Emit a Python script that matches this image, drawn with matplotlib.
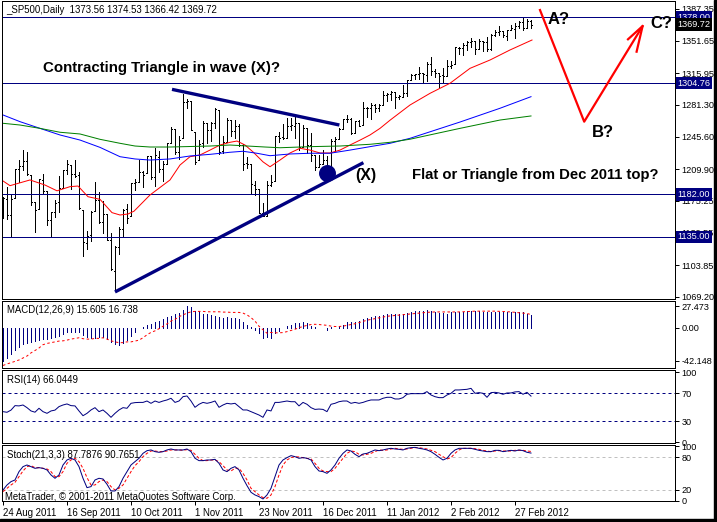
import matplotlib
matplotlib.use("Agg")
import matplotlib.pyplot as plt
from matplotlib.collections import LineCollection
from matplotlib.patches import Rectangle
import matplotlib.transforms as mtransforms

plt.rcParams['font.family'] = ['Liberation Sans', 'DejaVu Sans']

# ---------------- data ----------------
opens = [1162.2, 1176.7, 1158.9, 1177.9, 1209.8, 1213.0, 1219.1, 1203.9, 1174.0, 1165.9,
         1198.0, 1185.4, 1153.5, 1162.6, 1173.3, 1189.4, 1209.2, 1215.0, 1204.5, 1203.6,
         1164.6, 1128.8, 1136.9, 1163.3, 1175.4, 1151.7, 1159.9, 1131.2, 1097.4, 1124.0,
         1144.1, 1166.0, 1158.2, 1194.6, 1196.2, 1207.0, 1205.7, 1224.5, 1200.8, 1223.5,
         1209.9, 1215.4, 1238.7, 1254.2, 1229.2, 1244.0, 1284.4, 1285.0, 1251.0, 1219.6,
         1238.3, 1260.8, 1253.2, 1261.1, 1275.2, 1229.6, 1240.1, 1263.9, 1251.7, 1257.8,
         1236.6, 1216.2, 1215.6, 1192.6, 1187.5, 1161.4, 1158.7, 1192.6, 1196.7, 1246.9,
         1246.0, 1244.3, 1257.2, 1258.1, 1260.9, 1234.5, 1255.1, 1236.8, 1225.7, 1212.1,
         1216.1, 1219.7, 1205.7, 1241.3, 1243.7, 1254.0, 1265.0, 1265.4, 1249.8, 1262.8,
         1258.9, 1277.0, 1277.3, 1280.9, 1277.8, 1280.8, 1292.0, 1292.5, 1294.8, 1289.1,
         1290.2, 1293.7, 1308.1, 1314.5, 1315.3, 1316.0, 1314.4, 1326.3, 1318.3, 1316.2,
         1313.5, 1312.5, 1324.2, 1326.2, 1344.3, 1344.3, 1347.1, 1350.0, 1351.2, 1343.1,
         1351.3, 1350.5, 1342.6, 1358.1, 1361.2, 1362.1, 1357.5, 1363.5, 1365.2, 1367.6,
         1372.2, 1365.9, 1373.56]
highs = [1178.7, 1190.7, 1181.2, 1210.3, 1220.1, 1230.7, 1229.3, 1203.9, 1174.0, 1198.6,
         1204.4, 1185.4, 1162.5, 1176.4, 1202.4, 1209.1, 1220.1, 1215.0, 1220.4, 1206.3,
         1164.6, 1141.7, 1164.2, 1195.9, 1184.7, 1175.1, 1159.9, 1139.0, 1125.1, 1146.1,
         1165.6, 1171.4, 1194.9, 1199.2, 1220.3, 1207.5, 1224.6, 1224.5, 1233.1, 1229.6,
         1219.5, 1239.0, 1256.6, 1254.2, 1246.3, 1292.7, 1287.1, 1285.0, 1251.0, 1242.5,
         1263.2, 1260.8, 1261.7, 1277.6, 1275.2, 1246.2, 1267.0, 1263.9, 1264.3, 1259.6,
         1237.7, 1223.5, 1215.6, 1196.8, 1187.5, 1172.7, 1197.4, 1203.7, 1247.1, 1251.1,
         1260.1, 1266.7, 1266.0, 1267.1, 1260.9, 1258.3, 1255.1, 1249.9, 1225.7, 1225.6,
         1231.0, 1224.6, 1242.8, 1245.1, 1255.2, 1265.4, 1269.4, 1265.9, 1263.5, 1264.1,
         1284.6, 1278.7, 1283.1, 1281.8, 1282.0, 1296.5, 1293.8, 1296.8, 1294.8, 1292.0,
         1303.0, 1308.1, 1315.5, 1315.4, 1322.3, 1316.0, 1328.3, 1333.5, 1320.1, 1316.2,
         1321.4, 1330.5, 1329.2, 1345.3, 1344.4, 1349.2, 1351.0, 1354.3, 1351.2, 1353.4,
         1351.3, 1355.9, 1359.0, 1363.4, 1367.8, 1362.7, 1364.2, 1368.9, 1371.9, 1373.1,
         1378.0, 1376.2, 1374.53]
lows = [1156.3, 1155.0, 1135.9, 1177.9, 1195.8, 1209.4, 1203.9, 1170.6, 1140.1, 1165.9,
        1183.3, 1148.4, 1136.1, 1157.4, 1162.7, 1189.4, 1204.5, 1188.4, 1201.3, 1166.2,
        1114.2, 1121.4, 1131.1, 1163.3, 1150.4, 1139.9, 1131.3, 1098.9, 1074.8, 1115.7,
        1135.0, 1150.3, 1158.2, 1187.3, 1196.2, 1190.6, 1205.7, 1198.6, 1191.5, 1206.3,
        1197.3, 1215.4, 1238.7, 1226.8, 1221.1, 1244.0, 1277.0, 1253.2, 1215.4, 1219.6,
        1234.8, 1238.9, 1240.8, 1255.0, 1226.6, 1227.7, 1240.1, 1246.7, 1244.3, 1235.7,
        1209.4, 1211.4, 1183.2, 1181.7, 1161.8, 1158.7, 1158.7, 1191.8, 1196.7, 1239.7,
        1243.4, 1244.3, 1253.0, 1244.8, 1231.0, 1234.5, 1227.3, 1219.4, 1209.5, 1212.1,
        1215.2, 1202.4, 1205.7, 1229.5, 1243.1, 1254.0, 1262.3, 1248.6, 1249.8, 1257.5,
        1258.9, 1268.1, 1265.3, 1273.3, 1274.6, 1280.8, 1285.4, 1285.8, 1277.6, 1287.0,
        1290.2, 1291.0, 1308.1, 1309.2, 1309.9, 1306.1, 1307.7, 1313.6, 1311.7, 1300.5,
        1306.7, 1312.5, 1321.6, 1326.2, 1337.5, 1335.9, 1342.0, 1344.6, 1337.4, 1343.1,
        1340.8, 1340.8, 1341.2, 1357.2, 1358.1, 1355.5, 1352.3, 1363.5, 1354.9, 1366.0,
        1363.8, 1365.9, 1366.42]
closes = [1177.6, 1159.3, 1176.8, 1210.1, 1212.9, 1218.9, 1204.4, 1174.0, 1165.2, 1198.6,
          1185.9, 1154.2, 1162.3, 1172.9, 1188.7, 1209.1, 1216.0, 1204.1, 1202.1, 1166.8,
          1129.6, 1136.4, 1163.0, 1175.4, 1151.1, 1160.4, 1131.4, 1099.2, 1124.0, 1144.0,
          1165.0, 1155.5, 1194.9, 1195.5, 1207.3, 1203.7, 1224.6, 1200.9, 1225.4, 1209.9,
          1215.4, 1238.3, 1254.2, 1229.1, 1242.0, 1284.6, 1285.1, 1253.3, 1218.3, 1237.9,
          1261.2, 1253.2, 1261.1, 1275.9, 1229.1, 1239.7, 1263.9, 1251.8, 1257.8, 1236.9,
          1216.1, 1215.7, 1193.0, 1188.0, 1161.8, 1158.7, 1192.6, 1195.2, 1247.0, 1244.6,
          1244.3, 1257.1, 1258.5, 1261.0, 1234.4, 1255.2, 1236.5, 1225.7, 1211.8, 1215.8,
          1219.7, 1205.4, 1241.3, 1243.7, 1254.0, 1265.3, 1265.4, 1249.6, 1263.0, 1257.6,
          1277.1, 1277.3, 1281.1, 1277.8, 1280.7, 1292.1, 1292.5, 1295.5, 1289.1, 1290.5,
          1293.7, 1308.0, 1314.5, 1315.4, 1316.0, 1314.7, 1326.1, 1318.4, 1316.3, 1313.0,
          1312.4, 1324.1, 1325.5, 1344.9, 1344.3, 1347.1, 1350.0, 1352.0, 1342.6, 1351.8,
          1350.5, 1343.2, 1358.0, 1361.2, 1362.2, 1357.7, 1363.5, 1365.7, 1367.6, 1372.2,
          1366.0, 1374.1, 1369.72]

red_idx = [0, 1.75, 6.75, 10.5, 13.5, 16.75, 18.75, 21.25, 24.25, 27.25, 29.25, 31.25, 32.75,
           36.75, 41.75, 44.25, 46.75, 49.25, 51.75, 54.25, 56.75, 58.5, 60.5, 62.5, 65, 66.75,
           69.25, 71.75, 74.25, 76.75, 79.25, 81.75, 84.25, 86.75, 89.25, 91.75, 94.25, 96.75,
           101.75, 106.75, 111.75, 116.75, 121.75, 126.75, 132.25]
red_val = [1196.9, 1191.7, 1198, 1192.4, 1186, 1190.6, 1191.3, 1179.5, 1176.6, 1161.9, 1159.3,
           1160.4, 1163.5, 1181.4, 1198, 1214.5, 1223.7, 1225.6, 1231, 1236.6, 1239.6, 1241,
           1236.6, 1229, 1218, 1212.6, 1220, 1227.8, 1233, 1231, 1227.8, 1227.8, 1231, 1236.6,
           1242, 1247.7, 1255, 1264, 1280.8, 1293.7, 1304.8, 1321.3, 1330.5, 1341.6, 1352.6]
blue_idx = [0, 4.25, 9.25, 14.25, 19.25, 24.25, 29.25, 33, 36.75, 41.75, 46.75, 51.75, 56.75,
            60, 63.5, 66.75, 71.75, 76.75, 81.75, 86.75, 91.75, 96.75, 101.75, 114.25, 124.25, 132]
blue_val = [1269.8, 1262.4, 1255, 1247.7, 1242.1, 1234, 1223.7, 1221.2, 1220, 1221.2, 1224.5,
            1226.3, 1228.6, 1229.7, 1227.5, 1224.8, 1226.7, 1227.5, 1227.5, 1231, 1234.8, 1238.5,
            1244, 1262, 1277.2, 1290]
green_idx = [0, 4.25, 9.25, 14.25, 19.25, 24.25, 29.25, 33, 36.75, 41.75, 51.75, 56.75, 65.5,
             69.25, 76.75, 84.25, 91.75, 96.75, 101.75, 114.25, 124.25, 132]
green_val = [1260.6, 1258.7, 1255, 1250.7, 1248.8, 1242.9, 1238.5, 1235.5, 1234.4, 1234.4, 1235.5,
             1236.6, 1234.4, 1233.6, 1234.8, 1235.5, 1237.4, 1239.6, 1243, 1255, 1264.2, 1268.7]

levels = [1378.00, 1304.76, 1182.00, 1135.00]
price_ticks = [1387.35, 1351.65, 1315.95, 1281.30, 1245.60, 1209.90, 1175.25, 1139.55, 1103.85, 1069.20]

# hand-drawn analysis objects (bar index, price)
upper_tl = ([42.25, 84.1], [1298.1, 1258.7])
lower_tl = ([28, 90.1], [1074.3, 1217.1])
dot_x, dot_y = 80.9, 1206.0
abc_x = [134.25, 145.3, 159.9]
abc_y = [1385.7, 1262.4, 1368.0]
head_x = [156.25, 159.9, 158.4]
head_y = [1353.4, 1368.0, 1339.7]

macd = [-42.1, -38, -33, -28, -24, -21, -19, -18, -17, -16,
        -15, -14, -13, -12, -10, -8, -6, -5, -5, -6,
        -9, -12, -13, -13, -12, -12, -14, -18, -21, -22,
        -19, -16, -11, -5, -1, 0.5, 3, 5, 7, 9,
        11, 13, 15, 17, 19, 22, 27.5, 26, 21.5, 20.7,
        18, 17, 16, 15, 13, 12, 13, 12, 12, 10.5,
        7.5, 4, 0.5, -2.6, -7, -13.6, -11.5, -12.8, -7, -4,
        0, 2, 3, 6, 6, 7.5, 6, 2, 0.5, -1,
        0, -3, 0.5, -1, 2, 4, 7.5, 7.5, 7.5, 9,
        10.5, 12, 13.6, 14.5, 15, 16, 17, 18, 17, 17,
        17, 19, 19.4, 20.7, 20.7, 20.7, 22, 20.7, 19.4, 19,
        18.5, 18, 19.4, 19.4, 19.8, 19.8, 21.6, 21.6, 21.6, 21.6,
        19.4, 19.4, 19.4, 19.4, 19.4, 19.4, 19.4, 19.4, 19.4, 19.4,
        19.4, 18, 15.6]
signal = [-48, -46, -44.5, -42.7, -41, -38.5, -36, -32, -29, -25.8,
          -21.6, -20, -19, -18, -17, -16.7, -15.8, -14.5, -13.6, -12.8,
          -14, -14.5, -14.5, -13.6, -13.6, -12.8, -14.5, -16.7, -18, -19,
          -19, -18, -18, -17, -15.8, -12.8, -9, -6, -4, -1.3,
          1.8, 4.8, 8.4, 10.6, 14, 16.3, 18.5, 20.2, 20.7, 20.7,
          20.7, 20.2, 20.2, 20.2, 20.2, 19.8, 19.8, 19.4, 19.4, 19.4,
          18.5, 16.3, 12.8, 8.4, 1.8, -2.6, -7, -6, -6.5, -6.5,
          -6.2, -5, -3.5, -2, 0, 1.5, 3, 4, 4.3, 4,
          3.5, 3, 2, 1.5, 1.5, 2, 3, 4, 5, 6.5,
          8, 9.5, 10.5, 11.5, 12.5, 13.5, 14.5, 15, 15.5, 16,
          16.5, 17, 17.5, 18, 18.5, 19, 19.5, 19.8, 20, 20,
          20, 20, 20, 20, 20, 20.2, 20.5, 20.7, 21, 21,
          21, 21, 21, 21, 20.8, 20.5, 20.3, 20, 19.5, 19,
          18.5, 18, 16.7]
rsi = [43.8, 42.9, 46, 52.4, 52, 53.3, 49.5, 44.8, 43, 48.6,
       43.8, 41.4, 44.8, 46, 51, 53.3, 54.8, 52.4, 52, 44.8,
       38, 41.4, 46.2, 49.5, 43.8, 46.2, 41.4, 35.7, 41.4, 46.2,
       49.5, 48.6, 55.7, 56.7, 57, 57, 59, 55.7, 59, 57,
       59, 60.5, 62.9, 57, 59, 65.2, 66.2, 59, 50, 54.3,
       57, 55.7, 57, 59, 50, 53.3, 55.7, 54.8, 55.7, 51,
       46.2, 46.2, 43.8, 41.4, 39, 35.7, 46.2, 44.8, 57, 57,
       58, 59, 58, 58, 52, 57, 54.3, 49.5, 47, 47.5,
       47, 43.8, 54.3, 55.7, 58, 59, 59, 55.7, 57, 55.7,
       57, 59, 60.5, 60.5, 60.5, 62.9, 64.3, 64.3, 61.9, 61.9,
       63.8, 68.6, 69.5, 69.5, 69.5, 69.5, 72.4, 67.6, 65.2, 63.8,
       63.8, 67.6, 70, 74.8, 74.8, 75.2, 75.7, 77.1, 70, 71,
       70, 64.3, 71, 71.4, 70.5, 68.6, 70.5, 70.5, 72, 72.4,
       68.6, 71.4, 66.0]
stoch_k = [20, 29.2, 35.4, 38.4, 53.7, 62.9, 65.9, 62.9, 59.8, 61,
           59.8, 56.8, 47.6, 41.5, 47.6, 65.9, 75.1, 78.2, 75.1, 62.9,
           41.5, 24.3, 26.2, 38.4, 41.5, 40.2, 30.5, 18.2, 18.2, 26.2,
           41.5, 53.7, 65.9, 72, 78.2, 87.3, 92.2, 93.5, 90.4, 89.2,
           90.4, 93.5, 95.3, 93.5, 93.5, 93.5, 95.3, 90.4, 78.2, 73.9,
           73.9, 75.1, 75.1, 76.3, 69, 56.8, 53.7, 59.8, 62.9, 56.8,
           41.5, 28, 15.8, 10.9, 7.8, 3.5, 10.9, 23.1, 44.5, 65.9,
           75.1, 79.4, 83.1, 81.2, 78.2, 79.4, 78.2, 75.1, 62.9, 54.9,
           53.7, 50.6, 56.8, 65.9, 78.2, 87.3, 93.5, 91.6, 85.5, 81.2,
           86.1, 87.3, 90.4, 93.5, 92.2, 93.5, 95.3, 96.5, 95.3, 94.7,
           93.5, 96.5, 97.7, 98.3, 96.5, 95.3, 93.5, 90.4, 85.5, 80,
           75.1, 78.2, 87.3, 93.5, 96.5, 96.5, 96.5, 96.5, 94.7, 92.8,
           91.6, 90.4, 90.4, 92.8, 92.8, 90.4, 91.6, 92.8, 91.6, 93.5,
           92.2, 89.2, 87.8]
stoch_d = [17, 23.1, 29.2, 34.1, 44.5, 54.9, 62.9, 64.7, 61, 61,
           59.8, 58.6, 53.7, 44.5, 44.5, 53.7, 69, 75.1, 78.2, 72,
           59.8, 42.7, 29.2, 29.2, 35.4, 38.4, 35.4, 26.2, 20, 23.1,
           29.2, 41.5, 53.7, 64.7, 72, 81.2, 87.3, 91.6, 91.6, 90.4,
           90.4, 91.6, 93.5, 93.5, 93.5, 92.8, 94.1, 92.8, 85.5, 78.2,
           73.9, 73.9, 75.1, 75.1, 72, 64.7, 56.8, 54.9, 59.8, 59.8,
           50.6, 38.4, 23.1, 17, 10.9, 6, 4.8, 10.9, 26.2, 47.6,
           65.9, 75.1, 79.4, 81.2, 80.6, 79.4, 78.2, 76.9, 69, 59.8,
           54.9, 53.7, 53.7, 59.8, 69, 78.2, 87.3, 91.6, 90.4, 85.5,
           84.3, 85.5, 87.3, 90.4, 93.5, 92.8, 93.5, 95.3, 96.5, 95.3,
           94.7, 95.3, 96.5, 97.7, 97.7, 96.5, 95.3, 92.8, 90.4, 85.5,
           81.2, 76.9, 79.4, 87.3, 93.5, 96.5, 96.5, 96.5, 95.9, 94.7,
           92.8, 91.6, 90.4, 91.6, 92.2, 91.6, 91.6, 91.6, 92.8, 92.8,
           92.8, 91.6, 90.8]

date_idx = [0, 16, 32, 48, 64, 80, 96, 112, 128]
date_lbl = ['24 Aug 2011', '16 Sep 2011', '10 Oct 2011', '1 Nov 2011', '23 Nov 2011',
            '16 Dec 2011', '11 Jan 2012', '2 Feb 2012', '27 Feb 2012']

# ---------------- layout ----------------
W, H = 717, 522
fig = plt.figure(figsize=(W / 100, H / 100), dpi=100)
PX = 0.72  # one pixel in points


def rect(x0, y0, x1, y1):
    return [x0 / W, 1 - y1 / H, (x1 - x0) / W, (y1 - y0) / H]


ax = fig.add_axes(rect(2, 1, 675, 299))
ax_m = fig.add_axes(rect(2, 301, 675, 368))
ax_r = fig.add_axes(rect(2, 370, 675, 443))
ax_s = fig.add_axes(rect(2, 445, 675, 501))

FS = 6.6
for a in (ax, ax_m, ax_r, ax_s):
    a.set_xlim(-0.25, 168)
    a.yaxis.tick_right()
    a.tick_params(axis='y', length=3, width=PX, pad=1.5, labelsize=FS, colors='black')
    a.tick_params(axis='x', bottom=False, labelbottom=False)
    for s in a.spines.values():
        s.set_linewidth(PX)
        s.set_color('black')

n = len(closes)
xs = list(range(n))

# ---------------- price pane ----------------
ax.set_ylim(1066.5, 1395.7)
segs = []
for i in xs:
    segs.append([(i, lows[i]), (i, highs[i])])
    segs.append([(i - 0.35, opens[i]), (i, opens[i])])
    segs.append([(i, closes[i]), (i + 0.35, closes[i])])
ax.add_collection(LineCollection(segs, colors='black', linewidths=PX, antialiaseds=False))

for lv in levels:
    ax.axhline(lv, color='#000080', lw=PX, antialiased=False)

ax.plot(red_idx, red_val, color='#FF0000', lw=PX)
ax.plot(blue_idx, blue_val, color='#0000FF', lw=PX)
ax.plot(green_idx, green_val, color='#008000', lw=PX)

ax.plot(*upper_tl, color='#000080', lw=2.4, solid_capstyle='butt')
ax.plot(*lower_tl, color='#000080', lw=2.4, solid_capstyle='butt')
ax.scatter([dot_x], [dot_y], s=125, color='#000080', zorder=5)
ax.plot(abc_x, abc_y, color='#FF0000', lw=1.6)
ax.plot(head_x, head_y, color='#FF0000', lw=1.6)

ax.set_yticks(price_ticks)
ax.set_yticklabels(['%.2f' % v for v in price_ticks])

bt = mtransforms.blended_transform_factory(ax.transAxes, ax.transData)
for lv in levels:
    ax.text(1.004, lv, '%.2f' % lv, transform=bt, ha='left', va='center', fontsize=FS,
            color='white', bbox=dict(boxstyle='square,pad=0.18', fc='#000080', ec='none'), zorder=6)
ax.text(1.004, closes[-1], '%.2f' % closes[-1], transform=bt, ha='left', va='center', fontsize=FS,
        color='white', bbox=dict(boxstyle='square,pad=0.18', fc='black', ec='none'), zorder=6)

ax.text(0.006, 0.971, '_SP500,Daily  %.2f %.2f %.2f %.2f' % (opens[-1], highs[-1], lows[-1], closes[-1]),
        transform=ax.transAxes, fontsize=FS + 0.3, va='center', ha='left')

big = dict(fontweight='bold', color='black', va='center', ha='left')
ax.text(10, 1321.7, 'Contracting Triangle in wave (X)?', fontsize=10.8, **big)
ax.text(102.25, 1203.5, 'Flat or Triangle from Dec 2011 top?', fontsize=10.7, **big)
ax.text(88, 1202.4, '(X)', fontsize=11.5, **big)
ax.text(136.25, 1375.8, 'A?', fontsize=12, **big)
ax.text(147.25, 1249.9, 'B?', fontsize=12, **big)
ax.text(161.75, 1370.3, 'C?', fontsize=12, **big)

# ---------------- MACD ----------------
ax_m.set_ylim(-51.2, 33.9)
ax_m.vlines(xs, 0, macd, color='#000080', lw=PX, antialiased=False)
ax_m.plot(xs, signal, color='#FF0000', lw=PX, ls=(0, (2.5, 2.5)))
ax_m.set_yticks([27.473, 0, -42.148])
ax_m.set_yticklabels(['27.473', '0.00', '-42.148'])
ax_m.text(0.008, 0.87, 'MACD(12,26,9) %.3f %.3f' % (15.605, 16.738), transform=ax_m.transAxes,
          fontsize=FS + 0.3, va='center')

# ---------------- RSI ----------------
ax_r.set_ylim(-1, 103.3)
for lv in (70, 30):
    ax_r.axhline(lv, color='#000080', lw=PX, ls=(0, (3, 3)))
ax_r.plot(xs, rsi, color='#000080', lw=PX)
ax_r.set_yticks([100, 70, 30, 0])
ax_r.text(0.008, 0.86, 'RSI(14) %.4f' % 66.0449, transform=ax_r.transAxes, fontsize=FS + 0.3, va='center')

# ---------------- Stochastic ----------------
ax_s.set_ylim(-0.2, 102.6)
for lv in (80, 20):
    ax_s.axhline(lv, color='#C0C0C0', lw=PX, ls=(0, (3, 3)))
ax_s.plot(xs, stoch_d, color='#FF0000', lw=PX, ls=(0, (3, 2)))
ax_s.plot(xs, stoch_k, color='#000080', lw=PX)
ax_s.set_yticks([100, 80, 20, 0])
ax_s.text(0.008, 0.82, 'Stoch(21,3,3) %.4f %.4f' % (87.7876, 90.7651), transform=ax_s.transAxes,
          fontsize=FS + 0.3, va='center')
ax_s.text(0.005, 0.08, 'MetaTrader, \u00a9 2001-2011 MetaQuotes Software Corp.', transform=ax_s.transAxes,
          fontsize=FS + 0.3, va='center')

ax_s.set_xticks(date_idx)
ax_s.set_xticklabels(date_lbl, ha='left')
ax_s.tick_params(axis='x', bottom=True, labelbottom=True, length=3, width=PX, pad=2,
                 labelsize=FS + 0.3, direction='out')

# window frame
fig.patches.append(Rectangle((0, 0), 1, 3 / H, transform=fig.transFigure, color='black'))
fig.patches.append(Rectangle((1 - 3 / W, 0), 3 / W, 1, transform=fig.transFigure, color='black'))

fig.savefig('out.png', dpi=100)
